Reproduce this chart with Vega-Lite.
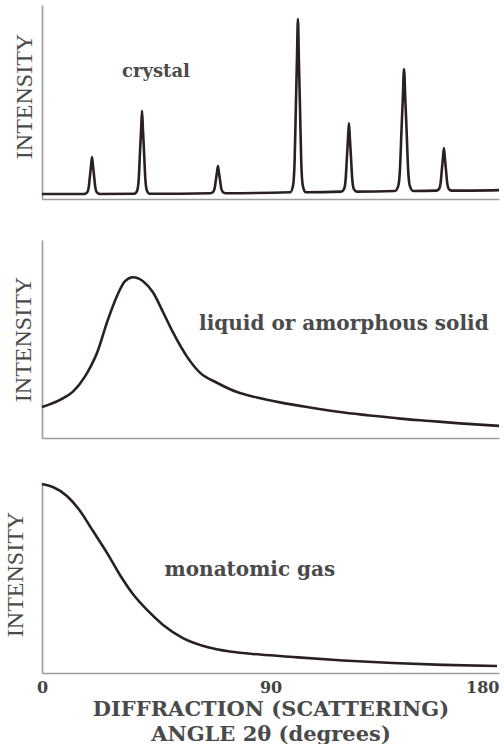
{
  "$schema": "https://vega.github.io/schema/vega-lite/v6.json",
  "background": "white",
  "padding": {"left": 3, "top": 5, "right": 0, "bottom": 0},
  "spacing": 40,
  "config": {
    "view": {"stroke": null},
    "axis": {"grid": false, "domainColor": "#9c9c9c", "domainWidth": 1.6, "labelColor": "#444", "titleColor": "#4a4a4a"},
    "line": {"color": "#2b2020", "strokeWidth": 2.6, "interpolate": "monotone"}
  },
  "datasets": {
    "crystal": [
      {"angle": 0, "intensity": 2.6}, {"angle": 16.7, "intensity": 2.6}, {"angle": 17.8, "intensity": 3.4}, {"angle": 18.4, "intensity": 6.0}, {"angle": 18.9, "intensity": 12.1}, {"angle": 19.3, "intensity": 16.9}, {"angle": 19.7, "intensity": 21.6}, {"angle": 20.1, "intensity": 16.9}, {"angle": 20.5, "intensity": 12.1}, {"angle": 21.0, "intensity": 6.0}, {"angle": 21.6, "intensity": 3.4}, {"angle": 22.7, "intensity": 2.6},
      {"angle": 36.4, "intensity": 2.7}, {"angle": 37.5, "intensity": 4.4}, {"angle": 38.1, "intensity": 10.4}, {"angle": 38.6, "intensity": 24.1}, {"angle": 39.0, "intensity": 34.7}, {"angle": 39.4, "intensity": 45.4}, {"angle": 39.8, "intensity": 34.7}, {"angle": 40.2, "intensity": 24.1}, {"angle": 40.7, "intensity": 10.4}, {"angle": 41.3, "intensity": 4.4}, {"angle": 42.4, "intensity": 2.7},
      {"angle": 66.3, "intensity": 3.0}, {"angle": 67.4, "intensity": 3.6}, {"angle": 68.0, "intensity": 5.5}, {"angle": 68.5, "intensity": 10.0}, {"angle": 68.9, "intensity": 13.5}, {"angle": 69.3, "intensity": 17.0}, {"angle": 69.7, "intensity": 13.5}, {"angle": 70.1, "intensity": 10.0}, {"angle": 70.6, "intensity": 5.5}, {"angle": 71.2, "intensity": 3.6}, {"angle": 72.3, "intensity": 3.0},
      {"angle": 97.8, "intensity": 3.5}, {"angle": 98.9, "intensity": 7.1}, {"angle": 99.5, "intensity": 19.6}, {"angle": 100.0, "intensity": 48.2}, {"angle": 100.4, "intensity": 70.5}, {"angle": 100.8, "intensity": 92.8}, {"angle": 101.2, "intensity": 70.5}, {"angle": 101.6, "intensity": 48.2}, {"angle": 102.1, "intensity": 19.6}, {"angle": 102.7, "intensity": 7.1}, {"angle": 103.8, "intensity": 3.5},
      {"angle": 117.9, "intensity": 3.8}, {"angle": 119.0, "intensity": 5.2}, {"angle": 119.6, "intensity": 10.2}, {"angle": 120.1, "intensity": 21.5}, {"angle": 120.5, "intensity": 30.4}, {"angle": 120.9, "intensity": 39.2}, {"angle": 121.3, "intensity": 30.4}, {"angle": 121.7, "intensity": 21.5}, {"angle": 122.2, "intensity": 10.2}, {"angle": 122.8, "intensity": 5.2}, {"angle": 123.9, "intensity": 3.8},
      {"angle": 139.0, "intensity": 4.1}, {"angle": 140.3, "intensity": 6.6}, {"angle": 141.0, "intensity": 15.4}, {"angle": 141.6, "intensity": 35.6}, {"angle": 142.1, "intensity": 51.3}, {"angle": 142.6, "intensity": 67.0}, {"angle": 143.1, "intensity": 51.3}, {"angle": 143.6, "intensity": 35.6}, {"angle": 144.2, "intensity": 15.4}, {"angle": 144.9, "intensity": 6.6}, {"angle": 146.2, "intensity": 4.1},
      {"angle": 155.3, "intensity": 4.3}, {"angle": 156.4, "intensity": 5.2}, {"angle": 157.0, "intensity": 8.3}, {"angle": 157.5, "intensity": 15.3}, {"angle": 157.9, "intensity": 20.8}, {"angle": 158.3, "intensity": 26.3}, {"angle": 158.7, "intensity": 20.8}, {"angle": 159.1, "intensity": 15.3}, {"angle": 159.6, "intensity": 8.3}, {"angle": 160.2, "intensity": 5.2}, {"angle": 161.3, "intensity": 4.3},
      {"angle": 180, "intensity": 4.6}
    ],
    "liquid": [
      {"angle": 0, "intensity": 15.7}, {"angle": 7.1, "intensity": 19.3}, {"angle": 12.2, "intensity": 23.4}, {"angle": 16.9, "intensity": 31.0}, {"angle": 19.3, "intensity": 36.4}, {"angle": 21.7, "intensity": 43.1}, {"angle": 25.6, "intensity": 58.4}, {"angle": 29.5, "intensity": 71.6}, {"angle": 32.7, "intensity": 79.2}, {"angle": 35.8, "intensity": 81.2}, {"angle": 39.8, "intensity": 79.2}, {"angle": 43.7, "intensity": 73.6}, {"angle": 47.7, "intensity": 63.5}, {"angle": 51.6, "intensity": 53.3}, {"angle": 57.1, "intensity": 41.1}, {"angle": 62.2, "intensity": 33.0}, {"angle": 68.9, "intensity": 27.9}, {"angle": 76.8, "intensity": 23.2}, {"angle": 84.6, "intensity": 20.5}, {"angle": 93.7, "intensity": 18.0}, {"angle": 105.5, "intensity": 15.4}, {"angle": 117.3, "intensity": 13.1}, {"angle": 129.1, "intensity": 11.4}, {"angle": 141.0, "intensity": 9.8}, {"angle": 152.8, "intensity": 8.6}, {"angle": 164.6, "intensity": 7.4}, {"angle": 180, "intensity": 6.1}
    ],
    "gas": [
      {"angle": 0, "intensity": 99.5}, {"angle": 4.3, "intensity": 97.9}, {"angle": 9.8, "intensity": 93.2}, {"angle": 15.0, "intensity": 85.3}, {"angle": 20.1, "intensity": 74.7}, {"angle": 25.6, "intensity": 63.2}, {"angle": 30.7, "intensity": 51.6}, {"angle": 35.8, "intensity": 41.6}, {"angle": 41.4, "intensity": 33.2}, {"angle": 47.7, "intensity": 25.3}, {"angle": 55.5, "intensity": 18.4}, {"angle": 65.0, "intensity": 13.7}, {"angle": 74.0, "intensity": 11.3}, {"angle": 85.9, "intensity": 9.7}, {"angle": 98.9, "intensity": 8.4}, {"angle": 118.6, "intensity": 6.6}, {"angle": 138.2, "intensity": 5.3}, {"angle": 157.9, "intensity": 4.3}, {"angle": 179.2, "intensity": 3.7}
    ],
    "labels": [
      {"panel": "crystal", "angle": 44.9, "intensity": 65.5, "text": "crystal"},
      {"panel": "liquid", "angle": 118.9, "intensity": 57.6, "text": "liquid or amorphous solid"},
      {"panel": "gas", "angle": 81.9, "intensity": 54.2, "text": "monatomic gas"}
    ]
  },
  "vconcat": [
    {
      "width": 457, "height": 194,
      "layer": [
        {
          "data": {"name": "crystal"},
          "mark": {"type": "line"},
          "encoding": {
            "x": {"field": "angle", "type": "quantitative", "scale": {"domain": [0, 180], "nice": false, "zero": false},
                  "axis": {"labels": false, "ticks": false, "title": null}},
            "y": {"field": "intensity", "type": "quantitative", "scale": {"domain": [0, 100], "nice": false},
                  "axis": {"labels": false, "ticks": false, "title": "INTENSITY", "titleFont": "Liberation Serif", "titleFontSize": 24, "titleFontWeight": "normal", "titlePadding": 6, "titleY": 91}}
          }
        },
        {
          "data": {"name": "labels"},
          "transform": [{"filter": "datum.panel === 'crystal'"}],
          "mark": {"type": "text", "font": "DejaVu Serif", "fontWeight": "bold", "fontSize": 18, "color": "#4a4a4a", "align": "center", "baseline": "middle"},
          "encoding": {
            "x": {"field": "angle", "type": "quantitative"},
            "y": {"field": "intensity", "type": "quantitative"},
            "text": {"field": "text"}
          }
        }
      ]
    },
    {
      "width": 457, "height": 198,
      "layer": [
        {
          "data": {"name": "liquid"},
          "mark": {"type": "line"},
          "encoding": {
            "x": {"field": "angle", "type": "quantitative", "scale": {"domain": [0, 180], "nice": false, "zero": false},
                  "axis": {"labels": false, "ticks": false, "title": null}},
            "y": {"field": "intensity", "type": "quantitative", "scale": {"domain": [0, 100], "nice": false},
                  "axis": {"labels": false, "ticks": false, "title": "INTENSITY", "titleFont": "Liberation Serif", "titleFontSize": 24, "titleFontWeight": "normal", "titlePadding": 7}}
          }
        },
        {
          "data": {"name": "labels"},
          "transform": [{"filter": "datum.panel === 'liquid'"}],
          "mark": {"type": "text", "font": "DejaVu Serif", "fontWeight": "bold", "fontSize": 20, "color": "#4a4a4a", "align": "center", "baseline": "middle"},
          "encoding": {
            "x": {"field": "angle", "type": "quantitative"},
            "y": {"field": "intensity", "type": "quantitative"},
            "text": {"field": "text"}
          }
        }
      ]
    },
    {
      "width": 457, "height": 190,
      "layer": [
        {
          "data": {"name": "gas"},
          "mark": {"type": "line"},
          "encoding": {
            "x": {"field": "angle", "type": "quantitative", "scale": {"domain": [0, 180], "nice": false, "zero": false},
                  "axis": {"values": [0, 90, 180], "ticks": false, "labelFont": "DejaVu Serif", "labelFontSize": 16, "labelFontWeight": "bold", "labelPadding": 6, "labelFlush": false,
                           "labelAlign": {"condition": {"test": "datum.value === 180", "value": "right"}, "value": "center"},
                           "title": ["DIFFRACTION (SCATTERING)", "ANGLE 2θ (degrees)"], "titleFont": "DejaVu Serif", "titleFontSize": 21, "titleFontWeight": "bold", "titleLineHeight": 25, "titlePadding": 3}},
            "y": {"field": "intensity", "type": "quantitative", "scale": {"domain": [0, 100], "nice": false},
                  "axis": {"labels": false, "ticks": false, "title": "INTENSITY", "titleFont": "Liberation Serif", "titleFontSize": 24, "titleFontWeight": "normal", "titlePadding": 15, "titleY": 91}}
          }
        },
        {
          "data": {"name": "labels"},
          "transform": [{"filter": "datum.panel === 'gas'"}],
          "mark": {"type": "text", "font": "DejaVu Serif", "fontWeight": "bold", "fontSize": 20, "color": "#4a4a4a", "align": "center", "baseline": "middle"},
          "encoding": {
            "x": {"field": "angle", "type": "quantitative"},
            "y": {"field": "intensity", "type": "quantitative"},
            "text": {"field": "text"}
          }
        }
      ]
    }
  ]
}
